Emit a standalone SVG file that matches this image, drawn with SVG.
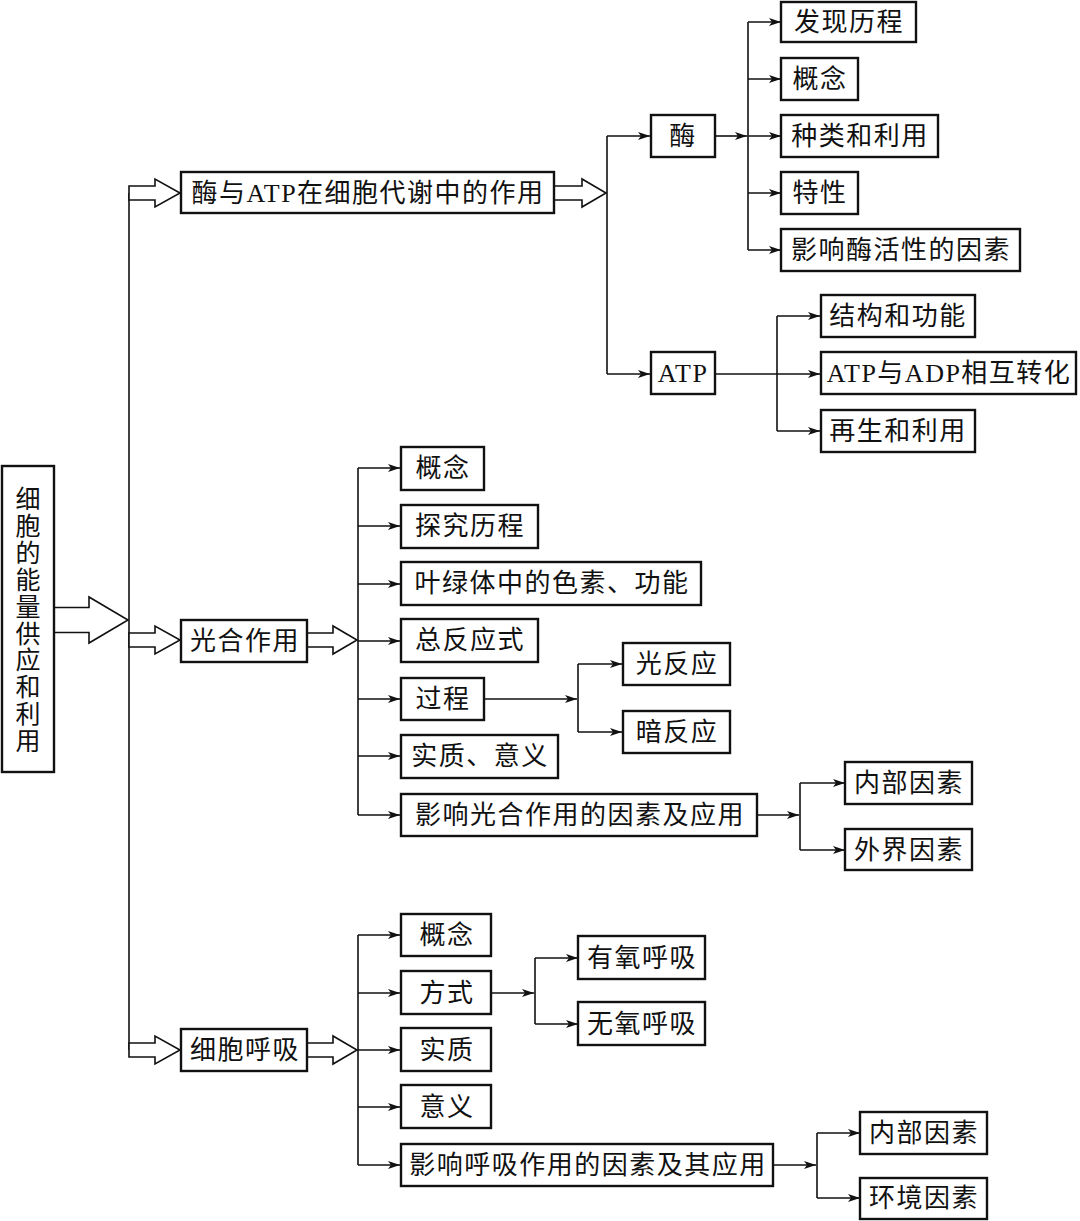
<svg xmlns="http://www.w3.org/2000/svg" width="1080" height="1221" viewBox="0 0 1080 1221">
<style>
.box{fill:#fff;stroke:#111;stroke-width:2.4}
.t{font-family:"Liberation Serif","Noto Sans CJK SC",serif;font-size:26px;fill:#111;text-anchor:middle;dominant-baseline:central;letter-spacing:1.5px}
.ln{fill:none;stroke:#111;stroke-width:1.6}
.ar{fill:none;stroke:#111;stroke-width:1.6;marker-end:url(#ah)}
.ho{fill:#fff;stroke:#111;stroke-width:1.6;stroke-linejoin:miter}
</style>
<defs>
<marker id="ah" markerUnits="userSpaceOnUse" markerWidth="14" markerHeight="10" refX="12" refY="4" orient="auto">
<path d="M0,0 L12,4 L0,8 L3,4 Z" fill="#111"/>
</marker>
</defs>

<g id="connectors">
<path class="ho" d="M54,607.5 H89 V597 L128,620 L89,643 V632.5 H54"/>
<path class="ln" d="M129,193 V1050"/>
<path class="ho" d="M129,186 H155 V179 L180,193 L155,207 V200 H129 Z"/>
<path class="ho" d="M129,633 H155 V626 L180,640 L155,654 V647 H129 Z"/>
<path class="ho" d="M129,1043 H155 V1036 L180,1050 L155,1064 V1057 H129 Z"/>

<path class="ho" d="M554,186 H582 V179 L606,193 L582,207 V200 H554"/>
<path class="ln" d="M607,136 V374"/>
<path class="ar" d="M607,136 H650"/>
<path class="ar" d="M607,374 H650"/>
<path class="ar" d="M715,136 H747"/>
<path class="ln" d="M748,22 V250"/>
<path class="ar" d="M748,22 H781"/>
<path class="ar" d="M748,79 H781"/>
<path class="ar" d="M748,136 H781"/>
<path class="ar" d="M748,193 H781"/>
<path class="ar" d="M748,250 H781"/>
<path class="ln" d="M715,374 H777"/>
<path class="ln" d="M777,316 V431"/>
<path class="ar" d="M777,316 H820"/>
<path class="ar" d="M777,374 H820"/>
<path class="ar" d="M777,431 H820"/>

<path class="ho" d="M307,633 H333 V626 L357,640 L333,654 V647 H307"/>
<path class="ln" d="M358,468 V815"/>
<path class="ar" d="M358,468 H400"/>
<path class="ar" d="M358,526 H400"/>
<path class="ar" d="M358,584 H400"/>
<path class="ar" d="M358,641 H400"/>
<path class="ar" d="M358,699 H400"/>
<path class="ar" d="M358,756 H400"/>
<path class="ar" d="M358,815 H400"/>
<path class="ar" d="M484,699 H577"/>
<path class="ln" d="M578,664 V732"/>
<path class="ar" d="M578,664 H622"/>
<path class="ar" d="M578,732 H622"/>
<path class="ar" d="M757,815 H799"/>
<path class="ln" d="M800,783 V850"/>
<path class="ar" d="M800,783 H845"/>
<path class="ar" d="M800,850 H845"/>

<path class="ho" d="M307,1043 H333 V1036 L357,1050 L333,1064 V1057 H307"/>
<path class="ln" d="M358,935 V1165"/>
<path class="ar" d="M358,935 H400"/>
<path class="ar" d="M358,993 H400"/>
<path class="ar" d="M358,1050 H400"/>
<path class="ar" d="M358,1107 H400"/>
<path class="ar" d="M358,1165 H400"/>
<path class="ar" d="M491,993 H534"/>
<path class="ln" d="M535,958 V1024"/>
<path class="ar" d="M535,958 H578"/>
<path class="ar" d="M535,1024 H578"/>
<path class="ar" d="M773,1165 H816"/>
<path class="ln" d="M817,1133 V1198"/>
<path class="ar" d="M817,1133 H860"/>
<path class="ar" d="M817,1198 H860"/>
</g>

<g id="root"><rect class="box" x="2" y="466" width="52" height="306"/>
<text class="t" x="28" y="499" style="letter-spacing:0;font-size:25px"><tspan x="28" y="499">细</tspan><tspan x="28" dy="26.9">胞</tspan><tspan x="28" dy="26.9">的</tspan><tspan x="28" dy="26.9">能</tspan><tspan x="28" dy="26.9">量</tspan><tspan x="28" dy="26.9">供</tspan><tspan x="28" dy="26.9">应</tspan><tspan x="28" dy="26.9">和</tspan><tspan x="28" dy="26.9">利</tspan><tspan x="28" dy="26.9">用</tspan></text></g>

<g id="n-enzyme-atp"><rect class="box" x="181" y="172" width="373" height="41"/><text class="t" x="368" y="193">酶与ATP在细胞代谢中的作用</text></g>
<g id="n-enzyme"><rect class="box" x="651" y="115" width="64" height="42"/><text class="t" x="683" y="136">酶</text></g>
<g id="n-atp"><rect class="box" x="651" y="352" width="64" height="42"/><text class="t" x="683" y="373">ATP</text></g>
<g id="n-e1"><rect class="box" x="781" y="2" width="135" height="40"/><text class="t" x="849" y="22">发现历程</text></g>
<g id="n-e2"><rect class="box" x="781" y="58" width="77" height="42"/><text class="t" x="820" y="79">概念</text></g>
<g id="n-e3"><rect class="box" x="781" y="115" width="157" height="42"/><text class="t" x="860" y="136">种类和利用</text></g>
<g id="n-e4"><rect class="box" x="781" y="172" width="77" height="42"/><text class="t" x="820" y="193">特性</text></g>
<g id="n-e5"><rect class="box" x="781" y="229" width="239" height="42"/><text class="t" x="901" y="250">影响酶活性的因素</text></g>
<g id="n-a1"><rect class="box" x="821" y="295" width="154" height="42"/><text class="t" x="898" y="316">结构和功能</text></g>
<g id="n-a2"><rect class="box" x="821" y="352" width="255" height="42"/><text class="t" x="949" y="373">ATP与ADP相互转化</text></g>
<g id="n-a3"><rect class="box" x="821" y="410" width="154" height="42"/><text class="t" x="898" y="431">再生和利用</text></g>

<g id="n-photo"><rect class="box" x="181" y="620" width="126" height="42"/><text class="t" x="245" y="641">光合作用</text></g>
<g id="n-p1"><rect class="box" x="401" y="447" width="83" height="43"/><text class="t" x="443" y="468">概念</text></g>
<g id="n-p2"><rect class="box" x="401" y="505" width="137" height="43"/><text class="t" x="470" y="526">探究历程</text></g>
<g id="n-p3"><rect class="box" x="401" y="562" width="300" height="43"/><text class="t" x="552" y="583">叶绿体中的色素、功能</text></g>
<g id="n-p4"><rect class="box" x="401" y="619" width="137" height="43"/><text class="t" x="470" y="640">总反应式</text></g>
<g id="n-p5"><rect class="box" x="401" y="678" width="83" height="42"/><text class="t" x="443" y="699">过程</text></g>
<g id="n-p6"><rect class="box" x="401" y="735" width="157" height="43"/><text class="t" x="480" y="756">实质、意义</text></g>
<g id="n-p7"><rect class="box" x="401" y="794" width="356" height="42"/><text class="t" x="580" y="815">影响光合作用的因素及应用</text></g>
<g id="n-p51"><rect class="box" x="623" y="643" width="107" height="42"/><text class="t" x="677" y="664">光反应</text></g>
<g id="n-p52"><rect class="box" x="623" y="711" width="107" height="42"/><text class="t" x="677" y="732">暗反应</text></g>
<g id="n-p71"><rect class="box" x="845" y="762" width="127" height="42"/><text class="t" x="909" y="783">内部因素</text></g>
<g id="n-p72"><rect class="box" x="845" y="829" width="127" height="41"/><text class="t" x="909" y="850">外界因素</text></g>

<g id="n-resp"><rect class="box" x="181" y="1029" width="126" height="42"/><text class="t" x="245" y="1050">细胞呼吸</text></g>
<g id="n-r1"><rect class="box" x="401" y="914" width="90" height="42"/><text class="t" x="447" y="935">概念</text></g>
<g id="n-r2"><rect class="box" x="401" y="971" width="90" height="43"/><text class="t" x="447" y="993">方式</text></g>
<g id="n-r3"><rect class="box" x="401" y="1028" width="90" height="43"/><text class="t" x="447" y="1050">实质</text></g>
<g id="n-r4"><rect class="box" x="401" y="1085" width="90" height="43"/><text class="t" x="447" y="1107">意义</text></g>
<g id="n-r5"><rect class="box" x="401" y="1144" width="372" height="42"/><text class="t" x="588" y="1165">影响呼吸作用的因素及其应用</text></g>
<g id="n-r21"><rect class="box" x="578" y="936" width="127" height="43"/><text class="t" x="642" y="958">有氧呼吸</text></g>
<g id="n-r22"><rect class="box" x="578" y="1002" width="127" height="43"/><text class="t" x="642" y="1024">无氧呼吸</text></g>
<g id="n-r51"><rect class="box" x="860" y="1112" width="127" height="42"/><text class="t" x="924" y="1133">内部因素</text></g>
<g id="n-r52"><rect class="box" x="860" y="1178" width="127" height="41"/><text class="t" x="924" y="1198">环境因素</text></g>
</svg>
